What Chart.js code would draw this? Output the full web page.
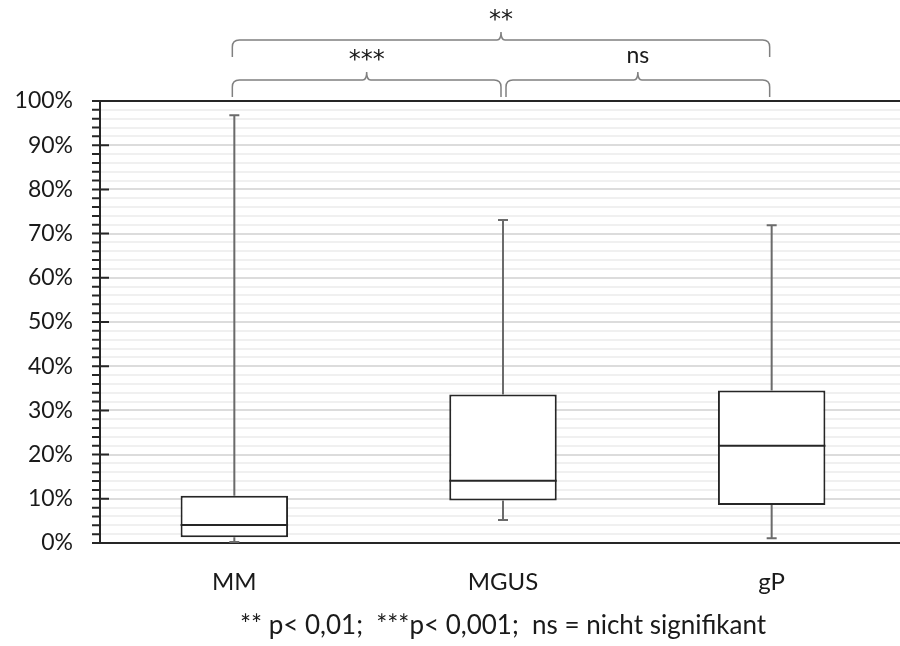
<!DOCTYPE html>
<html>
<head>
<meta charset="utf-8">
<script src="https://cdn.jsdelivr.net/npm/chart.js@4"></script>
<style>
  html, body { margin: 0; padding: 0; background: #fff; overflow: hidden; }
  #wrap { width: 906px; height: 646px; }
</style>
</head>
<body>
<div id="wrap"><canvas id="boxChart"></canvas></div>
<script>
// Box plot data (percent)
const categories = ['MM', 'MGUS', 'gP'];
const minVals = [0.2, 5.2, 1.1];
const q1Vals = [1.3, 9.6, 8.6];
const medianVals = [4.1, 14.1, 22.0];
const q3Vals = [10.7, 33.6, 34.5];
const maxVals = [96.8, 73.1, 71.9];

// Significance brackets between groups
const bracketFrom = [0, 0, 1];
const bracketTo = [2, 1, 2];
const bracketLabels = ['**', '***', 'ns'];
const bracketLevel = [1, 0, 0];

const footnote = '** p< 0,01;  ***p< 0,001;  ns = nicht signifikant';

const FONT = 'Lato, "Open Sans", sans-serif';
const TEXT_COLOR = '#1a1a1a';

function drawBrace(ctx, x1, x2, yLine, drop, peak) {
  const mid = (x1 + x2) / 2;
  const r = 7;
  ctx.beginPath();
  ctx.moveTo(x1, yLine + drop);
  ctx.lineTo(x1, yLine + r);
  ctx.quadraticCurveTo(x1, yLine, x1 + r, yLine);
  ctx.lineTo(mid - 4, yLine);
  ctx.quadraticCurveTo(mid, yLine, mid, yLine - peak);
  ctx.quadraticCurveTo(mid, yLine, mid + 4, yLine);
  ctx.lineTo(x2 - r, yLine);
  ctx.quadraticCurveTo(x2, yLine, x2, yLine + r);
  ctx.lineTo(x2, yLine + drop);
  ctx.stroke();
}

const boxPlotPlugin = {
  id: 'boxPlotParts',
  afterDatasetsDraw(chart) {
    const ctx = chart.ctx;
    const y = chart.scales.y;
    const meta = chart.getDatasetMeta(0);
    ctx.save();
    meta.data.forEach((bar, i) => {
      const x = bar.x;
      const half = bar.width / 2;
      // whiskers
      ctx.strokeStyle = '#6b6b6b';
      ctx.lineWidth = 2;
      ctx.beginPath();
      ctx.moveTo(x, y.getPixelForValue(q3Vals[i]));
      ctx.lineTo(x, y.getPixelForValue(maxVals[i]));
      ctx.moveTo(x, y.getPixelForValue(q1Vals[i]));
      ctx.lineTo(x, y.getPixelForValue(minVals[i]));
      ctx.moveTo(x - 5, y.getPixelForValue(maxVals[i]));
      ctx.lineTo(x + 5, y.getPixelForValue(maxVals[i]));
      ctx.moveTo(x - 5, y.getPixelForValue(minVals[i]));
      ctx.lineTo(x + 5, y.getPixelForValue(minVals[i]));
      ctx.stroke();
      // median
      ctx.strokeStyle = '#262626';
      ctx.beginPath();
      const ym = y.getPixelForValue(medianVals[i]);
      ctx.moveTo(x - half, ym);
      ctx.lineTo(x + half, ym);
      ctx.stroke();
    });
    ctx.restore();
  },
  afterDraw(chart) {
    const ctx = chart.ctx;
    const area = chart.chartArea;
    const xs = chart.scales.x;
    const ys = chart.scales.y;
    ctx.save();

    // top frame line
    ctx.strokeStyle = '#262626';
    ctx.lineWidth = 2;
    ctx.beginPath();
    ctx.moveTo(area.left, area.top);
    ctx.lineTo(area.right, area.top);
    ctx.stroke();

    // y tick marks: long across the axis every 10 %, short outside every 2 %
    ctx.beginPath();
    for (let v = 0; v <= 100; v += 2) {
      const py = ys.getPixelForValue(v);
      const major = v % 10 === 0;
      ctx.moveTo(area.left - 8, py);
      ctx.lineTo(area.left + (major ? 9 : 0), py);
    }
    ctx.stroke();

    // significance brackets
    ctx.strokeStyle = '#808080';
    ctx.lineWidth = 1.5;
    ctx.fillStyle = TEXT_COLOR;
    ctx.textAlign = 'center';
    ctx.textBaseline = 'alphabetic';
    bracketLabels.forEach((label, i) => {
      const a = xs.getPixelForValue(bracketFrom[i]);
      const b = xs.getPixelForValue(bracketTo[i]);
      const x1 = bracketFrom[i] === 1 ? a + 3 : a - 2;
      const x2 = b - 2;
      const yLine = area.top - 21 - bracketLevel[i] * 40;
      drawBrace(ctx, x1, x2, yLine, 17, 8);
      const isStars = label.indexOf('*') === 0;
      ctx.font = isStars ? '24px "DejaVu Sans"' : '23px ' + FONT;
      ctx.fillText(label, (x1 + x2) / 2, yLine - (isStars ? 13 : 17));
    });
    ctx.restore();
  }
};

const ctx = document.getElementById('boxChart').getContext('2d');
new Chart(ctx, {
  type: 'bar',
  data: {
    labels: categories,
    datasets: [{
      data: categories.map((c, i) => [q1Vals[i], q3Vals[i]]),
      backgroundColor: '#ffffff',
      borderColor: '#262626',
      borderWidth: 2,
      borderSkipped: false,
      barPercentage: 0.4,
      categoryPercentage: 1
    }]
  },
  options: {
    responsive: true,
    maintainAspectRatio: false,
    animation: false,
    layout: { padding: { top: 101, left: 0, right: 0, bottom: 0 } },
    plugins: {
      legend: { display: false },
      tooltip: { enabled: false }
    },
    scales: {
      x: {
        grid: { display: false },
        border: { color: '#262626', width: 2 },
        ticks: {
          color: TEXT_COLOR,
          padding: 17,
          font: { family: FONT, size: 24 }
        },
        title: {
          display: true,
          text: footnote,
          color: TEXT_COLOR,
          font: { family: FONT, size: 26 },
          padding: { top: 0, bottom: 5 }
        },
        afterFit: s => { s.height = 103; }
      },
      y: {
        min: 0,
        max: 100,
        grid: {
          drawTicks: false,
          lineWidth: 2,
          color: c => (c.tick && c.tick.value % 10 === 0) ? '#dcdcdc' : '#f0f0f0'
        },
        border: { color: '#262626', width: 2 },
        ticks: {
          stepSize: 2,
          autoSkip: false,
          padding: 27,
          color: TEXT_COLOR,
          font: { family: FONT, size: 23 },
          callback: v => v % 10 === 0 ? v + '%' : ''
        },
        afterFit: s => { s.width = 100; }
      }
    }
  },
  plugins: [boxPlotPlugin]
});
</script>
</body>
</html>
